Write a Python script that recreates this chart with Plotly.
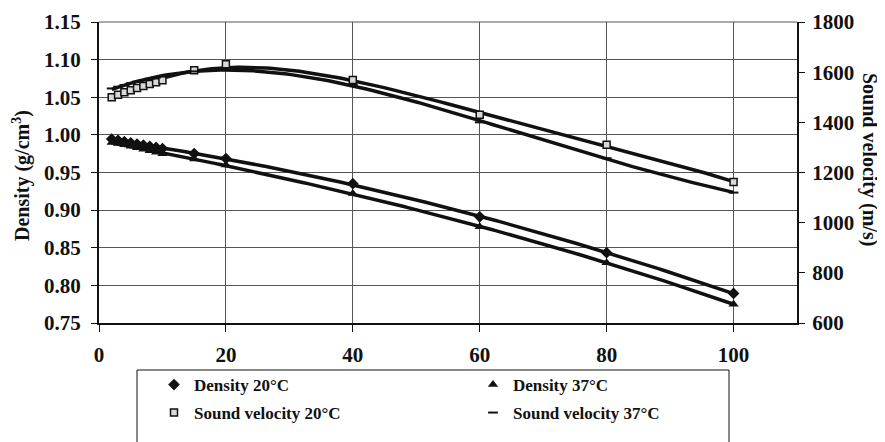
import numpy as np
import plotly.graph_objects as go

# concentration (x axis)
conc = [2, 3, 4, 5, 6, 7, 8, 9, 10, 15, 20, 40, 60, 80, 100]
density_20 = [0.9945, 0.9927, 0.9910, 0.9894, 0.9878, 0.9863, 0.9848, 0.9833, 0.9819,
              0.9752, 0.9686, 0.9352, 0.8911, 0.8434, 0.7893]
density_37 = [0.9900, 0.9885, 0.9870, 0.9850, 0.9830, 0.9810, 0.9790, 0.9770, 0.9750,
              0.9680, 0.9600, 0.9220, 0.8780, 0.8300, 0.7750]
sound_20 = [1500, 1510, 1520, 1528, 1537, 1545, 1553, 1560, 1568,
            1608, 1632, 1569, 1430, 1311, 1162]
sound_37 = [1535, 1542, 1549, 1556, 1562, 1568, 1574, 1579, 1584,
            1603, 1612, 1550, 1400, 1257, 1120]

x_ticks = [0, 20, 40, 60, 80, 100]
left_ticks = [0.75, 0.80, 0.85, 0.90, 0.95, 1.00, 1.05, 1.10, 1.15]
right_ticks = [600, 800, 1000, 1200, 1400, 1600, 1800]

FONT = "Liberation Serif"
INK = "#111111"

# page is drawn with an 8px body offset; plot area in page pixels: x 99..797, y 22..323
PX0, PX1, PY0, PY1 = 99, 797, 22, 323
def px(x):
    return (x - PX0) / (PX1 - PX0)
def py(y):
    return (PY1 - y) / (PY1 - PY0)

def trend(x, y, deg):
    c = np.polyfit(x, y, deg)
    xs = np.linspace(min(x), max(x), 150)
    return xs, np.polyval(c, xs)

fig = go.Figure()

series = [
    ("Density 20°C", density_20, "y", dict(symbol="diamond", size=9, color=INK), 3, "legend"),
    ("Density 37°C", density_37, "y", dict(symbol="triangle-up", size=9, color=INK), 3, "legend"),
    ("Sound velocity 20°C", sound_20, "y2",
     dict(symbol="square", size=7, color="#d8d8d8", line=dict(color=INK, width=1.5)), 4, "legend2"),
    ("Sound velocity 37°C", sound_37, "y2",
     dict(symbol="line-ew", size=7, color=INK, line=dict(color=INK, width=2)), 4, "legend2"),
]

for name, vals, ax, mk, deg, lg in series:
    xs, ys = trend(conc, vals, deg)
    fig.add_trace(go.Scatter(x=xs, y=ys, mode="lines", yaxis=ax, showlegend=False,
                             line=dict(color=INK, width=3.5), hoverinfo="skip"))
for name, vals, ax, mk, deg, lg in series:
    fig.add_trace(go.Scatter(x=conc, y=vals, mode="markers", yaxis=ax, name=name,
                             marker=mk, legend=lg))

legend_common = dict(orientation="h", xanchor="left", yanchor="middle",
                     entrywidth=274, entrywidthmode="pixels",
                     font=dict(family=FONT, size=17, color=INK, weight="bold"),
                     bgcolor="rgba(0,0,0,0)", borderwidth=0, traceorder="normal")

fig.update_layout(
    width=877, height=434,
    margin=dict(l=PX0 - 8, r=877 - (PX1 - 8), t=PY0 - 8, b=434 - (PY1 - 8), autoexpand=False),
    paper_bgcolor="white", plot_bgcolor="white",
    font=dict(family=FONT, size=21, color=INK, weight="bold"),
    showlegend=True,
    legend=dict(x=px(154), y=py(385), **legend_common),
    legend2=dict(x=px(154), y=py(413), **legend_common),
    xaxis=dict(range=[0, 110], tickvals=x_ticks, ticks="outside", ticklen=7, tickcolor=INK,
               showgrid=True, gridcolor="#555555", gridwidth=1, automargin=False,
               showline=True, linecolor=INK, linewidth=2, mirror=False, zeroline=False,
               ticklabelstandoff=5),
    yaxis=dict(range=[0.75, 1.15], tickvals=left_ticks, tickformat=".2f", ticks="outside",
               ticklen=6, tickcolor=INK, showgrid=True, gridcolor="#555555", gridwidth=1,
               showline=True, linecolor=INK, linewidth=2, zeroline=False, automargin=False,
               ticklabelstandoff=6),
    yaxis2=dict(range=[600, 1800], tickvals=right_ticks, overlaying="y", side="right",
                ticks="outside", ticklen=6, tickcolor=INK, showgrid=False, automargin=False,
                showline=True, linecolor=INK, linewidth=2, zeroline=False,
                ticklabelstandoff=3),
)

# top border of plot area
fig.add_shape(type="line", xref="paper", yref="paper", x0=0, x1=1, y0=1, y1=1,
              line=dict(color="#555555", width=1))
# legend frame
fig.add_shape(type="rect", xref="paper", yref="paper",
              x0=px(137), x1=px(729), y0=py(460), y1=py(370),
              line=dict(color=INK, width=1), fillcolor="rgba(0,0,0,0)")

fig.add_annotation(text="Density (g/cm<sup>3</sup>)", xref="paper", yref="paper",
                   x=px(21), y=py(176), textangle=-90, showarrow=False,
                   xanchor="center", yanchor="middle",
                   font=dict(family=FONT, size=20, color=INK, weight="bold"))
fig.add_annotation(text="Sound velocity (m/s)", xref="paper", yref="paper",
                   x=px(870), y=py(160), textangle=90, showarrow=False,
                   xanchor="center", yanchor="middle",
                   font=dict(family=FONT, size=20, color=INK, weight="bold"))

fig.write_html("out.html")
